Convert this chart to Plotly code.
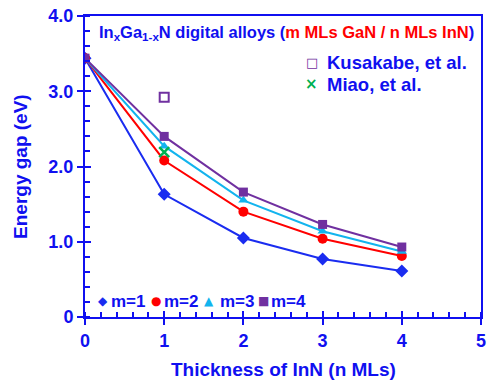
import plotly.graph_objects as go

n_mls = [0, 1, 2, 3, 4]
gap_m1 = [3.44, 1.63, 1.05, 0.77, 0.61]
gap_m2 = [3.44, 2.08, 1.40, 1.04, 0.81]
gap_m3 = [3.44, 2.27, 1.55, 1.14, 0.87]
gap_m4 = [3.44, 2.40, 1.66, 1.23, 0.93]
kusakabe_x = [1]
kusakabe_y = [2.92]
miao_x = [1]
miao_y = [2.19]

BLUE = "#1010f0"
FONT = "Liberation Sans"

series = [
    ("m=1", gap_m1, "#1a2cf0", "diamond", 10),
    ("m=2", gap_m2, "#ff0000", "circle", 10),
    ("m=3", gap_m3, "#12b4ee", "triangle-up", 9),
    ("m=4", gap_m4, "#7030a0", "square", 9),
]

fig = go.Figure()
for name, ys, col, sym, sz in series:
    fig.add_trace(go.Scatter(x=n_mls, y=ys, mode="lines+markers", name=name,
                             line=dict(color=col, width=2),
                             marker=dict(color=col, symbol=sym, size=sz),
                             showlegend=False))
fig.add_trace(go.Scatter(x=kusakabe_x, y=kusakabe_y, mode="markers", name="Kusakabe, et al.",
                         marker=dict(symbol="square-open", size=9, color="#7030a0", line=dict(width=2)),
                         showlegend=False))
fig.add_trace(go.Scatter(x=miao_x, y=miao_y, mode="markers", name="Miao, et al.",
                         marker=dict(symbol="x-thin-open", size=10, color="#00b050", line=dict(width=2.5, color="#00b050")),
                         showlegend=False))

annos = []
annos.append(dict(x=0.15, y=3.77, xref="x", yref="y", xanchor="left", yanchor="middle", showarrow=False,
                  text=f'In<sub>x</sub>Ga<sub>1-x</sub>N digital alloys (<span style="color:#ff0000">m MLs GaN / n MLs InN</span>)',
                  font=dict(family=FONT, size=16.5, color=BLUE, weight="bold")))
# legend top-right
annos.append(dict(x=2.86, y=3.38, xref="x", yref="y", xanchor="center", yanchor="middle", showarrow=False,
                  text="□", font=dict(family="DejaVu Sans", size=13, color="#7030a0", weight="bold")))
annos.append(dict(x=3.03, y=3.38, xref="x", yref="y", xanchor="left", yanchor="middle", showarrow=False,
                  text="Kusakabe, et al.", font=dict(family=FONT, size=18.5, color=BLUE, weight="bold")))
annos.append(dict(x=2.86, y=3.09, xref="x", yref="y", xanchor="center", yanchor="middle", showarrow=False,
                  text="×", font=dict(family="DejaVu Sans", size=15, color="#00b050", weight="bold")))
annos.append(dict(x=3.03, y=3.09, xref="x", yref="y", xanchor="left", yanchor="middle", showarrow=False,
                  text="Miao, et al.", font=dict(family=FONT, size=18.5, color=BLUE, weight="bold")))
# legend bottom
leg_items = [("◆", "#1a2cf0", 0.225, 0.30, "m=1"), ("●", "#ff0000", 0.90, 0.97, "m=2"),
             ("▲", "#12b4ee", 1.56, 1.68, "m=3"), ("■", "#7030a0", 2.25, 2.32, "m=4")]
for g, col, gx, tx, label in leg_items:
    annos.append(dict(x=gx, y=0.21, xref="x", yref="y", xanchor="center", yanchor="middle", showarrow=False,
                      text=g, font=dict(family="DejaVu Sans", size=12, color=col)))
    annos.append(dict(x=tx, y=0.21, xref="x", yref="y", xanchor="left", yanchor="middle", showarrow=False,
                      text=label, font=dict(family=FONT, size=17, color=BLUE, weight="bold")))
# axis titles
annos.append(dict(x=0.5, y=-0.176, xref="paper", yref="paper", xanchor="center", yanchor="middle", showarrow=False,
                  text="Thickness of InN (n MLs)", font=dict(family=FONT, size=19, color=BLUE, weight="bold")))
annos.append(dict(x=-0.163, y=0.5, xref="paper", yref="paper", xanchor="center", yanchor="middle", showarrow=False,
                  text="Energy gap (eV)", textangle=-90, font=dict(family=FONT, size=19, color=BLUE, weight="bold")))

tickfont = dict(family=FONT, size=18, color=BLUE, weight="bold")
fig.update_layout(
    width=489, height=381,
    margin=dict(l=85, r=3, t=16, b=64),
    paper_bgcolor="white", plot_bgcolor="white",
    annotations=annos,
    xaxis=dict(range=[0, 5], tickvals=[0, 1, 2, 3, 4, 5], ticktext=["0", "1", "2", "3", "4", "5"],
               showline=True, linecolor=BLUE, linewidth=2, mirror=True, showgrid=False, zeroline=False,
               ticks="outside", ticklen=6, tickwidth=1.5, tickcolor=BLUE, ticklabeloverflow="allow",
               minor=dict(dtick=0.2, ticks="inside", ticklen=5, tickwidth=1.5, tickcolor=BLUE, showgrid=False),
               tickfont=tickfont),
    yaxis=dict(range=[0, 4], tickvals=[0, 1, 2, 3, 4], ticktext=["0", "1.0", "2.0", "3.0", "4.0"],
               showline=True, linecolor=BLUE, linewidth=2, mirror=True, showgrid=False, zeroline=False,
               ticks="outside", ticklen=6, tickwidth=1.5, tickcolor=BLUE, ticklabeloverflow="allow",
               minor=dict(dtick=0.2, ticks="inside", ticklen=5, tickwidth=1.5, tickcolor=BLUE, showgrid=False),
               tickfont=tickfont),
    # overlay axes providing the inner half of the major ticks (crossing ticks)
    xaxis2=dict(overlaying="x", range=[0, 5], tickvals=[0, 1, 2, 3, 4, 5], showticklabels=False,
                ticks="inside", ticklen=6, tickwidth=1.5, tickcolor=BLUE, showgrid=False, zeroline=False,
                showline=False, side="bottom", anchor="y"),
    yaxis2=dict(overlaying="y", range=[0, 4], tickvals=[0, 1, 2, 3, 4], showticklabels=False,
                ticks="inside", ticklen=6, tickwidth=1.5, tickcolor=BLUE, showgrid=False, zeroline=False,
                showline=False, side="left", anchor="x"),
)
fig.add_trace(go.Scatter(x=[None], y=[None], xaxis="x2", yaxis="y2", showlegend=False, hoverinfo="skip"))

fig.write_html("out.html")
